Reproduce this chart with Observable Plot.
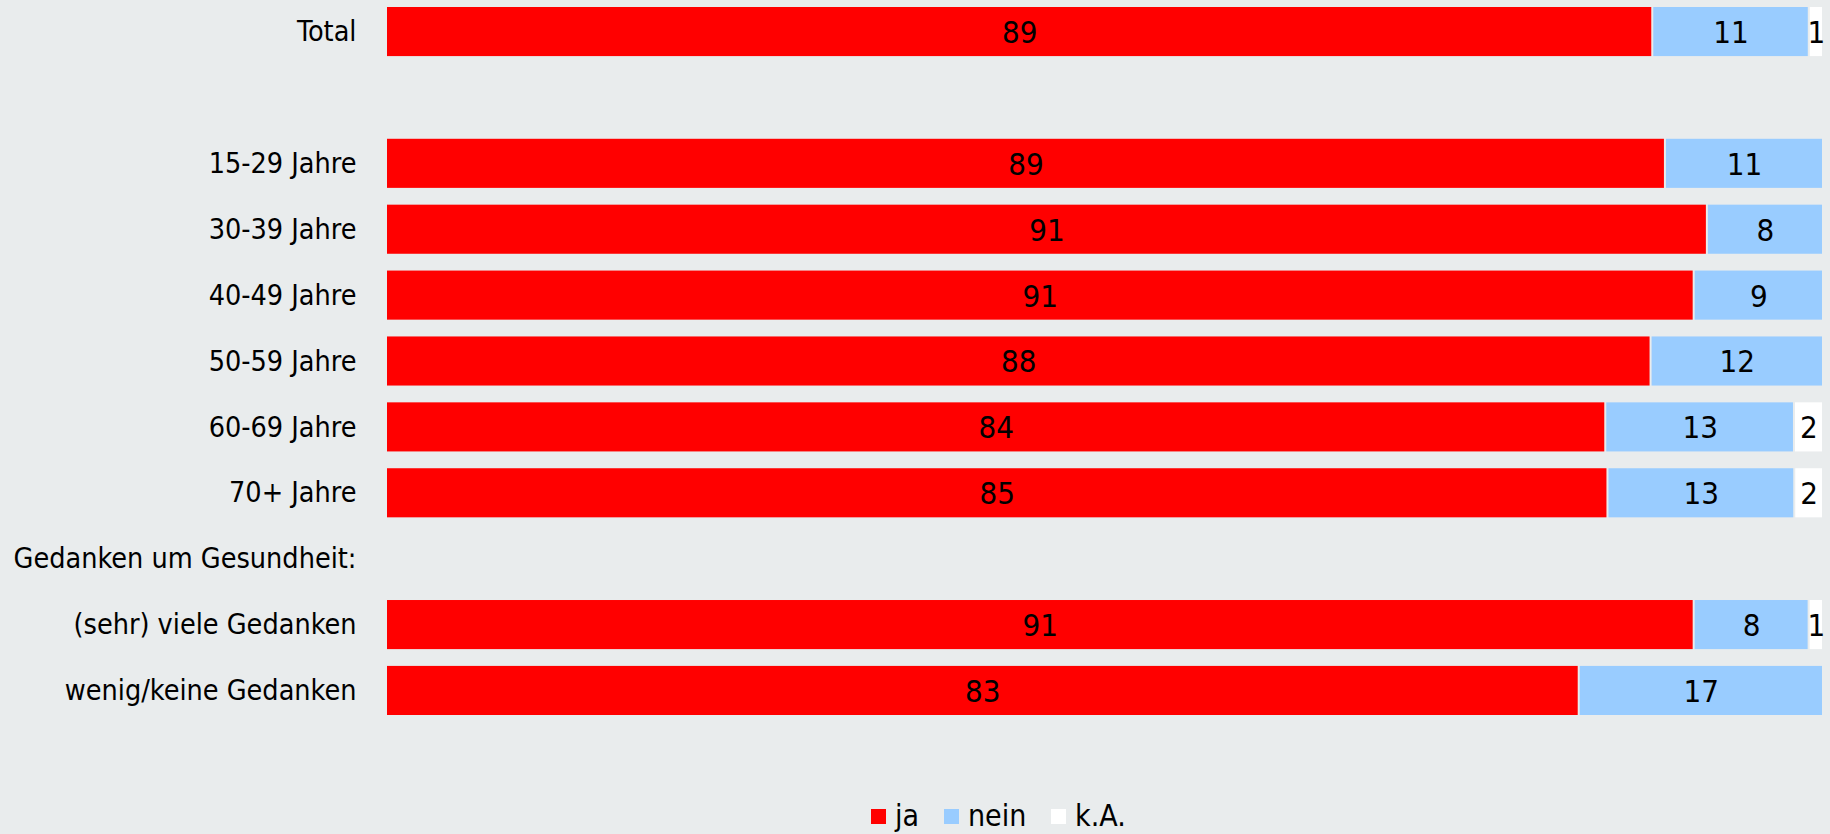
<!DOCTYPE html>
<html>
<head>
<meta charset="utf-8">
<script src="https://cdn.jsdelivr.net/npm/d3@7"></script>
<script src="https://cdn.jsdelivr.net/npm/@observablehq/plot@0.6"></script>
<style>
  html, body { margin: 0; padding: 0; background: #e9eced; }
  body { width: 1830px; height: 834px; overflow: hidden; font-family: "DejaVu Sans Condensed", "DejaVu Sans", sans-serif; font-stretch: condensed; }
  #legend { position: absolute; left: 0; top: 796px; width: 1830px; height: 40px; }
  .item { position: absolute; top: 0; height: 40px; line-height: 40px; font-size: 30px; color: #000; }
  .sw { display: inline-block; width: 15px; height: 15px; vertical-align: middle; margin-right: 9px; position: relative; top: -1px; }
</style>
</head>
<body>
<div id="chart"></div>
<div id="legend"></div>
<script>
const categories = ["Total", " ", "15-29 Jahre", "30-39 Jahre", "40-49 Jahre", "50-59 Jahre", "60-69 Jahre", "70+ Jahre", "Gedanken um Gesundheit:", "(sehr) viele Gedanken", "wenig/keine Gedanken"];
const seriesNames = ["ja", "nein", "k.A."];
const ja   = [89, null, 89, 91, 91, 88, 84, 85, null, 91, 83];
const nein = [11, null, 11,  8,  9, 12, 13, 13, null,  8, 17];
const ka   = [ 1, null,  0,  0,  0,  0,  2,  2, null,  1,  0];
const seriesColors = ["#ff0000", "#99ccff", "#ffffff"];

const seriesValues = [ja, nein, ka];
const data = [];
categories.forEach((c, i) => {
  seriesNames.forEach((s, j) => {
    const v = seriesValues[j][i];
    if (v != null && v > 0) data.push({cat: c, series: s, value: v});
  });
});

const chart = Plot.plot({
  width: 1830,
  height: 760,
  marginLeft: 386,
  marginRight: 7,
  marginTop: 7,
  marginBottom: 45,
  style: {background: "transparent", fontFamily: "'DejaVu Sans Condensed', 'DejaVu Sans', sans-serif", fontStretch: "condensed", color: "#000"},
  x: {axis: null, domain: [0, 1]},
  y: {domain: categories, paddingInner: 0.255, paddingOuter: 0, round: false, label: null},
  color: {domain: seriesNames, range: seriesColors},
  marks: [
    Plot.axisY({tickSize: 0, tickPadding: 30, fontSize: 28.5, label: null}),
    Plot.barX(data, Plot.stackX({x: "value", y: "cat", z: "series", fill: "series", order: seriesNames, offset: "normalize", insetLeft: 1, insetRight: 1})),
    Plot.text(data, Plot.stackX({x: "value", y: "cat", z: "series", text: d => String(d.value), order: seriesNames, offset: "normalize", fontSize: 31, fill: "#000", dy: 1}))
  ]
});
document.getElementById("chart").appendChild(chart);

const legend = document.getElementById("legend");
const legendX = [871, 944, 1051];
seriesNames.forEach((s, i) => {
  const el = document.createElement("div");
  el.className = "item";
  el.style.left = legendX[i] + "px";
  const sw = document.createElement("span");
  sw.className = "sw";
  sw.style.background = seriesColors[i];
  el.appendChild(sw);
  el.appendChild(document.createTextNode(s));
  legend.appendChild(el);
});
</script>
</body>
</html>
